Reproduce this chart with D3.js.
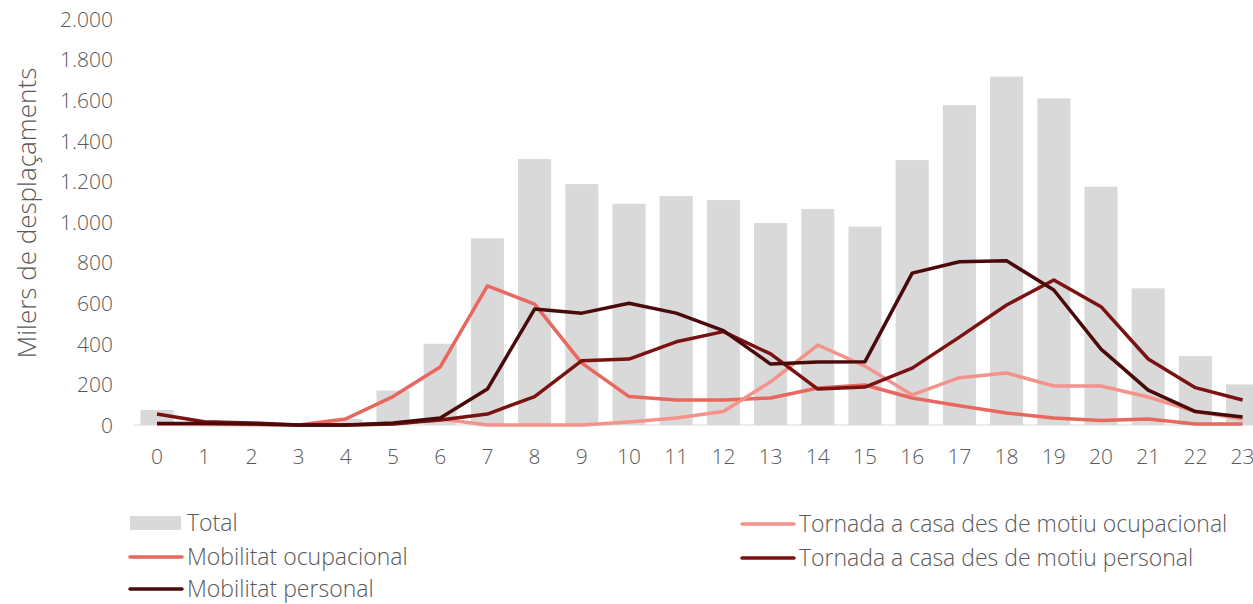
<!DOCTYPE html>
<html>
<head>
<meta charset="utf-8">
<script src="https://cdn.jsdelivr.net/npm/d3@7"></script>
<style>
  body { margin: 0; background: #fff; }
  svg text { font-family: "Open Sans", Lato, sans-serif; font-weight: 300; fill: #595959; }
</style>
</head>
<body>
<div id="chart"></div>
<script>
const hours = d3.range(0, 24).map(String);
const total = [74, 22, 10, 5, 30, 170, 400, 920, 1310, 1187, 1090, 1128, 1108, 995, 1064, 977, 1305, 1576, 1716, 1609, 1174, 673, 340, 200];
const mobOcupacional = [5, 5, 3, 0, 30, 140, 286, 685, 595, 305, 140, 123, 123, 133, 182, 197, 133, 95, 59, 34, 22, 30, 5, 5];
const tornadaOcupacional = [5, 3, 2, 0, 0, 5, 30, 0, 0, 0, 15, 35, 66, 213, 394, 290, 148, 233, 256, 192, 192, 138, 66, 30];
const mobPersonal = [8, 8, 5, 0, 0, 10, 34, 177, 571, 551, 600, 551, 465, 300, 310, 312, 748, 804, 809, 665, 374, 172, 66, 39];
const tornadaPersonal = [54, 16, 10, 0, 0, 5, 25, 54, 140, 317, 325, 410, 460, 350, 177, 187, 280, 433, 591, 714, 583, 325, 184, 123];
const yTicks = [0, 200, 400, 600, 800, 1000, 1200, 1400, 1600, 1800, 2000];

const series = [
  { name: "Mobilitat ocupacional", values: mobOcupacional, color: "#e8675e" },
  { name: "Tornada a casa des de motiu ocupacional", values: tornadaOcupacional, color: "#f4938b" },
  { name: "Tornada a casa des de motiu personal", values: tornadaPersonal, color: "#7a1212" },
  { name: "Mobilitat personal", values: mobPersonal, color: "#4a0a0a" }
];

const W = 1253, H = 604;
const svg = d3.select("#chart").append("svg")
  .attr("width", W)
  .attr("height", H);

const x = d3.scaleBand()
  .domain(hours)
  .range([133.4, 133.4 + 24 * 47.2])
  .paddingInner(0.3)
  .paddingOuter(0.15);

const y = d3.scaleLinear()
  .domain([0, 2000])
  .range([425, 19]);

const cx = h => x(h) + x.bandwidth() / 2;

// bars
svg.append("g").selectAll("rect")
  .data(total)
  .join("rect")
  .attr("x", (d, i) => x(hours[i]))
  .attr("y", d => y(d))
  .attr("width", x.bandwidth())
  .attr("height", d => y(0) - y(d))
  .attr("fill", "#d9d9d9");

// x axis line
svg.append("line")
  .attr("x1", 133.4).attr("x2", W)
  .attr("y1", y(0)).attr("y2", y(0))
  .attr("stroke", "#d9d9d9")
  .attr("stroke-width", 1);

// lines
const line = d3.line()
  .x((d, i) => cx(hours[i]))
  .y(d => y(d));

svg.append("g").selectAll("path")
  .data(series)
  .join("path")
  .attr("fill", "none")
  .attr("stroke", d => d.color)
  .attr("stroke-width", 3.5)
  .attr("stroke-linejoin", "round")
  .attr("d", d => line(d.values));

// y axis
const yAxis = svg.append("g")
  .attr("transform", "translate(113,0)")
  .call(d3.axisLeft(y).tickValues(yTicks).tickSize(0).tickPadding(0)
    .tickFormat(d => d3.format(",")(d).replace(/,/g, ".")));
yAxis.select(".domain").remove();
yAxis.selectAll("text")
  .style("font-size", "21px")
  .attr("dy", "0.35em");

// x axis labels
const xAxis = svg.append("g")
  .attr("transform", `translate(0,${y(0)})`)
  .call(d3.axisBottom(x).tickSize(0).tickPadding(24));
xAxis.select(".domain").remove();
xAxis.selectAll("text")
  .style("font-size", "21px");

// y title
svg.append("text")
  .attr("transform", "translate(36,213) rotate(-90)")
  .attr("text-anchor", "middle")
  .style("font-size", "26px")
  .text("Milers de desplaçaments");

// legend
const legend = [
  { name: "Total", type: "bar", color: "#d9d9d9", x: 130, y: 523 },
  { name: "Mobilitat ocupacional", type: "line", color: "#e8675e", x: 130, y: 557 },
  { name: "Mobilitat personal", type: "line", color: "#4a0a0a", x: 130, y: 589 },
  { name: "Tornada a casa des de motiu ocupacional", type: "line", color: "#f4938b", x: 742, y: 524 },
  { name: "Tornada a casa des de motiu personal", type: "line", color: "#7a1212", x: 742, y: 558 }
];

const lg = svg.append("g").selectAll("g")
  .data(legend)
  .join("g")
  .attr("transform", d => `translate(${d.x},${d.y})`);

lg.filter(d => d.type === "bar").append("rect")
  .attr("x", 0).attr("y", -7)
  .attr("width", 51).attr("height", 14)
  .attr("fill", d => d.color);

lg.filter(d => d.type === "line").append("line")
  .attr("x1", 0).attr("x2", 52)
  .attr("y1", 0).attr("y2", 0)
  .attr("stroke", d => d.color)
  .attr("stroke-width", 3.5)
  .attr("stroke-linecap", "round");

lg.append("text")
  .attr("x", 57)
  .attr("y", 0)
  .attr("dy", "0.35em")
  .style("font-size", "23px")
  .text(d => d.name);
</script>
</body>
</html>
